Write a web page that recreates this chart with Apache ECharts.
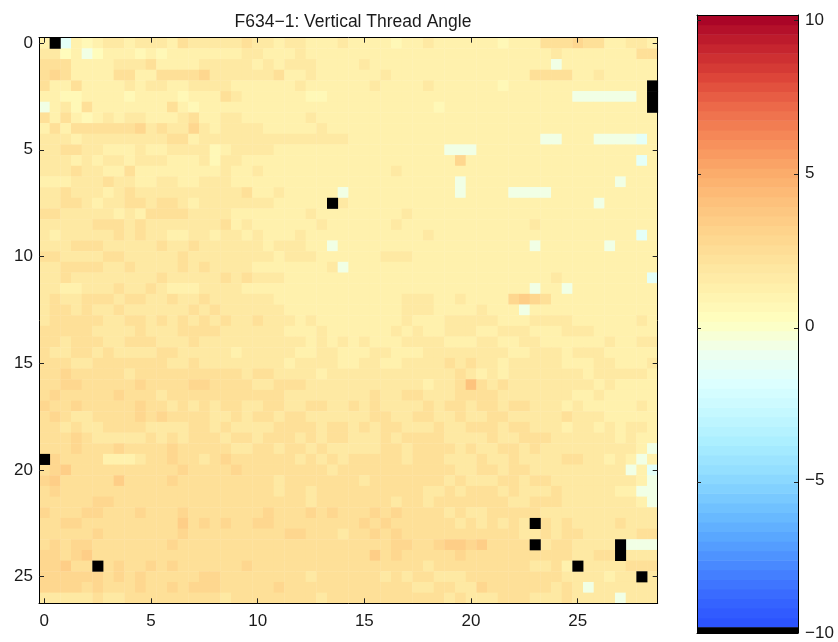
<!DOCTYPE html>
<html><head><meta charset="utf-8">
<script src="https://cdn.jsdelivr.net/npm/echarts@6/dist/echarts.min.js"></script>
<style>html,body{margin:0;padding:0;background:#fff}#c{width:838px;height:642px}</style>
</head><body><div id="c"></div>
<script>
const chartTitle = 'F634\u22121: Vertical Thread Angle';
const nCols = 58, nRows = 53;            // cells every 0.5 units: x 0..28.5, y 0..26
const cellStep = 0.5;
const xTicks = [0, 5, 10, 15, 20, 25];
const yTicks = [0, 5, 10, 15, 20, 25];
const colorbarTicks = [-10, -5, 0, 5, 10];
// character -> value (degrees); 'x' = missing (drawn black)
const levelChars  = ['c', 'b', 'a', '0', '1', '2', '3', '4', '5', '6', '7'];
const levelValues = [-2.2, -1.6, -0.8, 0.2, 0.5, 1.0, 1.6, 2.2, 2.7, 3.2, 3.8];
// colormap from -10 (bottom) to +10 (top)
const cmapColors = ['#2a50ff','#3868ff','#4888ff','#5aa8ff','#72c4ff','#90dcff','#aaeeff','#c4f8ff','#ddffff','#eeffee',
  '#ffffc0','#fff1ad','#fee39c','#fed28a','#fdbf7a','#fba868','#f68a58','#ec6a4a','#dc4438','#c4222e','#a50026'];
// rows top (y=0) to bottom (y=26); each row 58 cells (x=0..28.5)
const rows = [
"2xb2123323 3324333334 3323322232 2221223222 2221222444 54422332",
"3302a02221 2122222223 3222322222 2222222222 2222222232 22222244",
"4442222333 4222233333 2323332222 3222222222 22222222a2 22222222",
"4542222442 2444453333 3342232222 2232222222 2222224444 22322222",
"4224222232 3322333322 2222322222 2322223222 2221222222 2222222x",
"2211222212 2221222432 2222211222 2222222222 2222222222 aaaaaa2x",
"a231422222 2242122222 2222222222 2222222122 2222222222 2222222x",
"4242123233 2223422332 2222232222 2222222222 2222222222 22222222",
"2424444445 3433532333 3222223222 2222222222 2222222222 22222222",
"3332333333 3344233333 3333333332 2222222222 2222222aa2 22aaaab2",
"3344332223 2233331233 3322222222 22222222aa a222222222 22222222",
"3332323323 3322231332 2222222222 2222222225 2222222222 222222b2",
"3334332242 2222222322 3222222222 2223222222 2222222222 22222222",
"2223334332 2332233322 2222222222 222222222a 2222222222 2222a222",
"3343332343 3333333334 22322222a2 222222222a 2222aaaa22 22222222",
"3344323344 3443233333 3322222x32 2222222222 2222222222 22a22222",
"4433333232 4444333322 2222232222 2222322222 2222222222 22222222",
"3333344434 3333333423 2222223222 2223222222 2222223222 22222222",
"3233333434 3322332332 3222322222 2222223222 2222222222 222222b2",
"3334443333 3433433333 3233322a22 2222222222 222222a222 222a2222",
"4433334433 3334333333 3323332222 2233322222 2222222222 22222222",
"3344443343 3334343333 22222223a2 2222222222 2222222222 22222222",
"3343333333 3433333434 3332222222 2222222222 2222222232 2222222b",
"3322333433 4322233332 2222222222 2222222222 222222a22a 22222222",
"3433444344 3343343333 3322222222 2222333223 2222565422 22222222",
"3443433433 3333434333 3332222222 2222333222 23222a2222 22222222",
"3444443344 3434343433 4333232222 2222322233 3332223333 22222232",
"4444433334 3334444333 3332223222 2223232233 3223332223 33222222",
"4434443344 4333433333 3333323232 3222333322 2332233222 22232233",
"4334434333 3443333323 3333223322 2332223333 3333223332 33322222",
"4443344444 4433433333 3332333322 3322333343 4332333332 22332223",
"4454444434 4444444443 4433332333 3333333334 3232333333 32333332",
"4455444445 4444554444 3344433333 3333332334 7434333333 33232222",
"4544444544 4344444444 4443333333 3433443334 4443333333 22322222",
"5445444445 4434343443 3443344334 3433334344 3443443332 32222232",
"4543344445 4544443343 4434433333 3443344334 3344333334 33322222",
"4434334444 3333443433 3344443443 4344333433 4443443332 33232332",
"4445433333 4343444344 3444343443 3343444433 3343344433 33332322",
"4445444544 4454444433 4434434333 3344344443 4334434333 3333332a",
"x544442223 4454434544 4444343434 4444344433 3433433334 433232a2",
"4564444444 4445444454 4444444344 4444444443 3443443333 33333a2b",
"5644444644 4454444444 4434444444 3444444434 3334434433 3333332a",
"4544444444 4444444444 4434434444 4444443343 4443433343 333322aa",
"4444455444 4444444444 4444434444 4443443444 4444334443 3333332a",
"5444554445 4445444444 4544454544 4545444434 3344444333 33333333",
"4455444444 4446454544 5544444444 5454444443 434343x434 33334333",
"4444454444 4445444444 4445544434 4545444444 4444433434 43333344",
"4545544444 4454444444 4444444444 4445544566 564444x344 3333xaaa",
"5545644444 4444444444 4444444444 4645444445 4444444444 3344x333",
"55644x4544 5454444445 4444444444 4444443444 4444443342 x3333444",
"5555554545 4444455444 4444434444 4434344333 4444444443 333233x3",
"5555454445 4454555444 4454444444 4444433443 3544444434 3a333333",
"3333343344 4444444344 4444443444 4444444434 3334443334 3333a333"
];

const cells = [], missing = [];
rows.forEach((r, j) => {
  const s = r.replace(/ /g, '');
  for (let i = 0; i < nCols; i++) {
    const ch = s[i];
    if (ch === 'x') missing.push([i * cellStep, j * cellStep, 0]);
    else if (ch !== undefined) cells.push([i * cellStep, j * cellStep, levelValues[levelChars.indexOf(ch)]]);
  }
});

// colorbar bins (value range shown by the bar, with a black NaN strip at the bottom)
const cbTop = 10.162, cbColorBottom = -9.71, cbBottom = -9.9, cbBins = 64;
const cbData = [];
for (let k = 0; k < cbBins; k++) {
  const lo = cbColorBottom + k * (cbTop - cbColorBottom) / cbBins;
  const hi = cbColorBottom + (k + 1) * (cbTop - cbColorBottom) / cbBins;
  cbData.push([lo, hi, -10 + (k + 0.5) * 20 / cbBins]);
}

const FONT = 'Liberation Sans, Arial, Helvetica, sans-serif';
const boxLine = { show: true, onZero: false, lineStyle: { color: '#000', width: 1 } };
const noSplit = { show: false };
const mkTick = (vals, len) => ({ show: true, inside: true, length: len, customValues: vals, lineStyle: { color: '#222', width: 1 } });
const mkLabel = (vals, margin) => ({ show: true, customValues: vals, margin: margin, fontSize: 17, color: '#1a1a1a', fontFamily: FONT,
  formatter: v => (v < 0 ? '\u2212' + Math.abs(v) : String(v)) });

function cellRender(params, api) {
  const x = api.value(0), y = api.value(1);
  const h = cellStep / 2;
  const a = api.coord([x - h, y - h]);
  const b = api.coord([x + h, y + h]);
  return { type: 'rect', shape: { x: Math.min(a[0], b[0]), y: Math.min(a[1], b[1]),
           width: Math.abs(b[0] - a[0]) + 0.4, height: Math.abs(b[1] - a[1]) + 0.4 },
           style: { fill: api.visual('color') } };
}
function barRender(params, api) {
  const p0 = api.coord([0, api.value(0)]);
  const p1 = api.coord([1, api.value(1)]);
  return { type: 'rect', shape: { x: p0[0], y: p1[1], width: p1[0] - p0[0], height: p0[1] - p1[1] + 0.6 },
           style: { fill: api.visual('color') } };
}

const chart = echarts.init(document.getElementById('c'), null, { renderer: 'canvas' });
chart.setOption({
  animation: false,
  backgroundColor: '#fff',
  title: { text: chartTitle, left: 348, top: 8, textAlign: 'center',
           textStyle: { fontSize: 17.5, fontWeight: 'normal', color: '#1a1a1a', fontFamily: FONT } },
  grid: [
    { left: 39, top: 37.7, width: 618.7, height: 565.6 },
    { left: 697, top: 15, width: 101, height: 618 },
    { left: 697, top: 20, width: 101, height: 616 }
  ],
  xAxis: [
    { type: 'value', gridIndex: 0, position: 'bottom', min: -0.25, max: 28.75, z: 10, axisLine: boxLine,
      axisTick: mkTick(xTicks, 5), axisLabel: mkLabel(xTicks, 10), splitLine: noSplit },
    { type: 'value', gridIndex: 0, position: 'top', min: -0.25, max: 28.75, z: 10, axisLine: boxLine,
      axisTick: mkTick(xTicks, 5), axisLabel: { show: false }, splitLine: noSplit },
    { type: 'value', gridIndex: 1, position: 'bottom', min: 0, max: 1, z: 10, axisLine: boxLine,
      axisTick: { show: false }, axisLabel: { show: false }, splitLine: noSplit },
    { type: 'value', gridIndex: 1, position: 'top', min: 0, max: 1, z: 10, axisLine: boxLine,
      axisTick: { show: false }, axisLabel: { show: false }, splitLine: noSplit },
    { type: 'value', gridIndex: 2, min: 0, max: 1, show: false }
  ],
  yAxis: [
    { type: 'value', gridIndex: 0, position: 'left', inverse: true, min: -0.25, max: 26.25, z: 10, axisLine: boxLine,
      axisTick: mkTick(yTicks, 5), axisLabel: mkLabel(yTicks, 6), splitLine: noSplit },
    { type: 'value', gridIndex: 0, position: 'right', inverse: true, min: -0.25, max: 26.25, z: 10, axisLine: boxLine,
      axisTick: mkTick(yTicks, 5), axisLabel: { show: false }, splitLine: noSplit },
    { type: 'value', gridIndex: 1, position: 'left', min: cbBottom, max: cbTop, z: 10, axisLine: boxLine,
      axisTick: mkTick([-5, 0, 5, 10], 4), axisLabel: { show: false }, splitLine: noSplit },
    { type: 'value', gridIndex: 1, position: 'right', min: cbBottom, max: cbTop, z: 10, axisLine: boxLine,
      axisTick: mkTick([-5, 0, 5, 10], 4), axisLabel: { show: false }, splitLine: noSplit },
    { type: 'value', gridIndex: 2, position: 'right', min: colorbarTicks[0], max: colorbarTicks[colorbarTicks.length - 1],
      interval: 5, z: 10, axisLine: { show: false }, axisTick: { show: false },
      axisLabel: { margin: 7, fontSize: 17, color: '#1a1a1a', fontFamily: FONT,
                   formatter: v => (v < 0 ? '\u2212' + Math.abs(v) : String(v)) },
      splitLine: noSplit }
  ],
  visualMap: [{ type: 'continuous', show: false, min: -10, max: 10, dimension: 2, seriesIndex: [0, 2],
                inRange: { color: cmapColors } }],
  series: [
    { type: 'custom', xAxisIndex: 0, yAxisIndex: 0, data: cells, renderItem: cellRender, silent: true, z: 1 },
    { type: 'custom', xAxisIndex: 0, yAxisIndex: 0, data: missing, silent: true, z: 1,
      renderItem: (p, api) => { const r = cellRender(p, api); r.style.fill = '#000'; return r; } },
    { type: 'custom', xAxisIndex: 2, yAxisIndex: 2, data: cbData, renderItem: barRender, silent: true, z: 1 },
    { type: 'custom', xAxisIndex: 2, yAxisIndex: 2, data: [[cbBottom, cbColorBottom]], silent: true, z: 1,
      renderItem: (p, api) => { const r = barRender(p, api); r.style.fill = '#000'; return r; } }
  ]
});
</script></body></html>
